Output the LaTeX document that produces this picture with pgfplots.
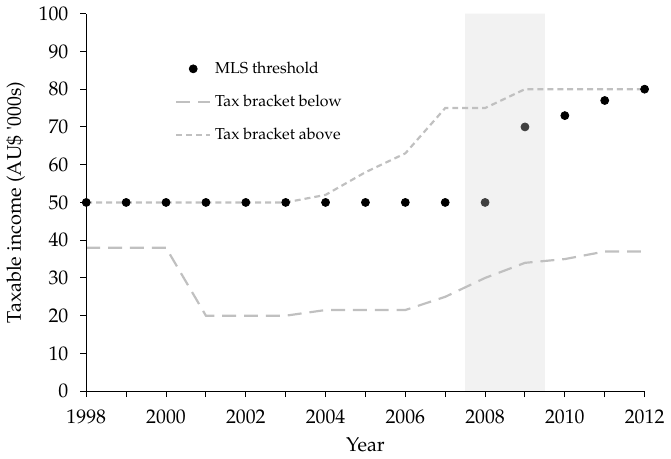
\documentclass[border=0pt]{standalone}
\usepackage[T1]{fontenc}
\usepackage{textcomp}
\usepackage{mathpazo}
\usepackage{pgfplots}
\pgfplotsset{compat=1.18}
\definecolor{lg}{HTML}{C0C0C0}
\definecolor{shade}{HTML}{F2F2F2}
\definecolor{dg}{HTML}{404040}
\begin{document}
\begin{tikzpicture}
\begin{axis}[
  scale only axis, width=281bp, height=190bp,
  xmin=1998, xmax=2012, ymin=0, ymax=100,
  axis lines=left, axis line style={-, black, line width=0.6pt},
  xtick={1998,2000,...,2012}, minor xtick={1999,2001,...,2011},
  ytick={0,10,...,100},
  tick align=outside, tick style={black, line width=0.5pt},
  major tick length=3bp, minor tick length=3bp,
  /pgf/number format/assume math mode=true,
  xticklabel style={/pgf/number format/1000 sep={}, yshift=-3bp},
  yticklabel style={xshift=-2.5bp},
  tick label style={font=\fontsize{10}{12}\selectfont},
  label style={font=\fontsize{10}{12}\selectfont},
  xlabel={Year}, ylabel={Taxable income (AU\$ \textquotesingle000s)},
  xlabel style={yshift=0bp}, ylabel style={yshift=0bp},
  clip=false, axis on top,
  legend style={draw=none, fill=none, at={(rel axis cs:0.148,0.895)}, anchor=north west,
    font=\fontsize{8}{10}\selectfont, row sep=5.5bp},
  legend cell align=left,
]
\addplot[draw=none, fill=shade, forget plot] coordinates {(2007.5,0) (2009.5,0) (2009.5,100) (2007.5,100)} \closedcycle;
\addplot[only marks, mark=*, mark size=2bp, black] coordinates {
(1998,50)(1999,50)(2000,50)(2001,50)(2002,50)(2003,50)(2004,50)(2005,50)(2006,50)(2007,50)(2010,73)(2011,77)(2012,80)};
\addlegendentry{MLS threshold}
\addplot[lg, line width=1.1pt, dash pattern=on 7bp off 4bp] coordinates {
(1998,38)(2000,38)(2001,20)(2003,20)(2004,21.5)(2006,21.5)(2007,25)(2008,30)(2009,34)(2010,35)(2011,37)(2012,37)};
\addlegendentry{Tax bracket below}
\addplot[lg, line width=1.1pt, dash pattern=on 3bp off 2bp] coordinates {
(1998,50)(2003,50)(2004,52)(2005,58)(2006,63)(2007,75)(2008,75)(2009,80)(2012,80)};
\addlegendentry{Tax bracket above}
\addplot[only marks, mark=*, mark size=2bp, dg, forget plot] coordinates {(2008,50)(2009,70)};
\end{axis}
\end{tikzpicture}
\end{document}
